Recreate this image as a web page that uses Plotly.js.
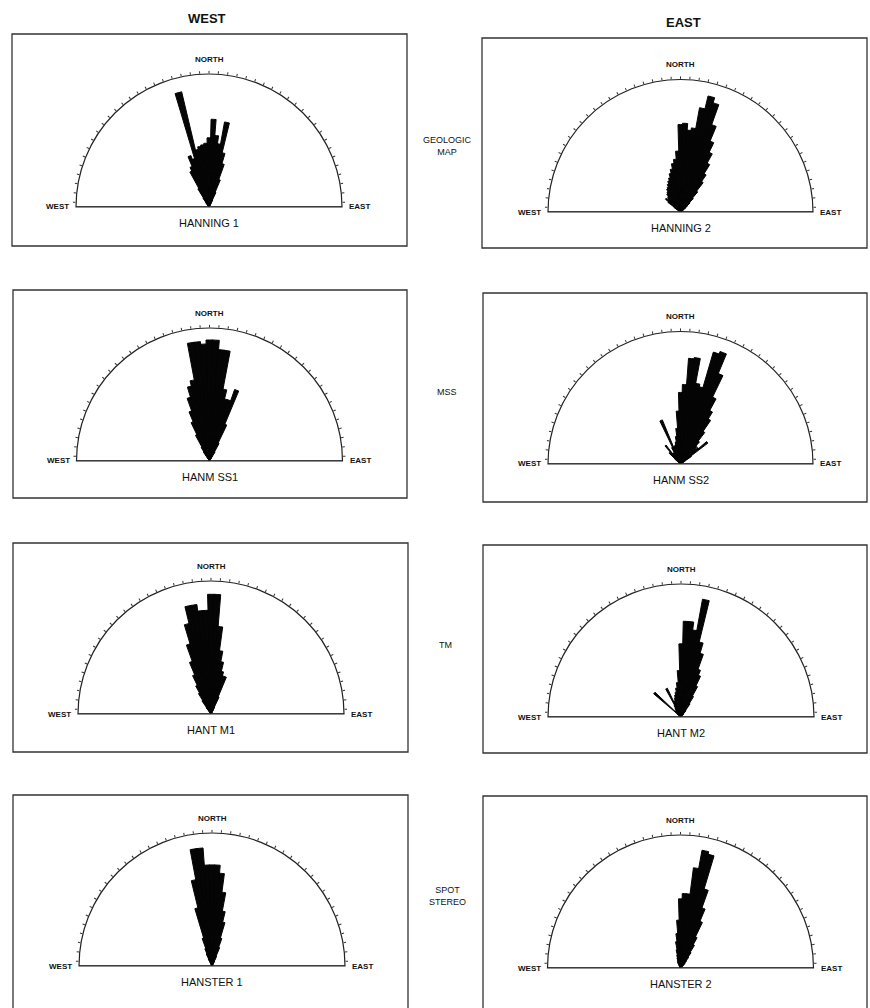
<!DOCTYPE html>
<html><head><meta charset="utf-8">
<script src="https://cdn.plot.ly/plotly-3.0.1.min.js"></script>
<style>html,body{margin:0;padding:0;background:#fff}#chart{width:870px;height:1008px}</style>
</head><body><div id="chart"></div>
<script>
// Azimuth bins (compass degrees, negative = west of north), 3-degree classes
const azimuthBins = [-54,-51,-48,-45,-42,-39,-36,-33,-30,-27,-24,-21,-18,-15,-12,-9,-6,-3,0,3,6,9,12,15,18,21,24,27,30,33,36,39,42,45,48,51,54,57,60];

// Relative lineament length per bin (percent of outer circle)
const hanning1  = [0,0,0,0,0,0,4,8,16,30,33,41,38,89,44,46,47,48,52,66,54,48,65,42,34,22,12,6,3,0,0,0,0,0,0,0,0,0,0];
const hanning2  = [6,12,15,12,14,15,17,18,20,21,23,25,27,30,33,37,40,46,66,67,62,64,80,90,86,70,58,50,42,34,28,20,14,10,7,5,3,0,0];
const hanmSS1   = [0,0,0,0,0,0,0,8,12,22,32,40,50,58,62,90,90,88,91,91,84,84,55,48,48,57,30,15,8,0,0,0,0,0,0,0,0,0,0];
const hanmSS2   = [0,0,6,12,8,18,10,8,10,14,36,14,14,15,17,21,27,40,54,60,80,81,62,60,88,90,74,56,46,40,30,22,18,16,18,26,10,4,0];
const hantM1    = [0,0,0,0,0,0,6,12,18,24,32,42,55,70,83,83,78,78,90,90,66,48,40,33,30,30,14,6,3,0,0,0,0,0,0,0,0,0,0];
const hantM2    = [0,4,27,6,5,6,7,8,10,24,12,13,15,17,19,22,26,35,55,72,72,66,90,58,50,38,34,26,18,12,6,3,0,0,0,0,0,0,0];
const hanster1  = [0,0,0,0,0,0,0,0,0,6,10,14,22,45,66,89,89,76,76,76,70,56,42,34,22,15,8,4,0,0,0,0,0,0,0,0,0,0,0];
const hanster2  = [0,0,0,0,0,0,0,0,0,4,5,6,8,10,14,20,26,36,52,56,56,76,90,88,62,48,38,26,20,14,10,7,5,4,0,0,0,0,0];

const panelNames = ['HANNING 1','HANNING 2','HANM SS1','HANM SS2','HANT M1','HANT M2','HANSTER 1','HANSTER 2'];
const panelData  = [hanning1, hanning2, hanmSS1, hanmSS2, hantM1, hantM2, hanster1, hanster2];
const columnHeaders = ['WEST','EAST'];
const rowLabels = ['GEOLOGIC<br>MAP','MSS','TM','SPOT<br>STEREO'];

// ---- layout geometry (pixels) ----
const W = 870, H = 1008;
const geom = [
  {cx:209, cy:207, R:133, box:[12,34,407,246]},
  {cx:680.5, cy:212, R:132.5, box:[482,38,867,248]},
  {cx:209.5, cy:461, R:133, box:[13,290,407,498]},
  {cx:680.5, cy:464, R:132.5, box:[483,293,867,502]},
  {cx:211, cy:714, R:133, box:[13,543,408,752]},
  {cx:681, cy:717, R:133, box:[483,545,867,753]},
  {cx:212, cy:966, R:133, box:[13,795,408,1012]},
  {cx:680.5, cy:968, R:133, box:[483,796,867,1012]}
];
const headerPos = [[207,18],[683,22]];
const rowPos = [[447,146],[447,392],[446,645],[447,896]];

const px = x => x / W;
const py = y => 1 - y / H;
const FONT = 'Liberation Sans, Arial, sans-serif';

const traces = [];
const layout = {
  width: W, height: H,
  margin: {l:0, r:0, t:0, b:0},
  paper_bgcolor: '#fff',
  showlegend: false,
  shapes: [],
  annotations: []
};

panelNames.forEach((name, i) => {
  const g = geom[i];
  const key = i === 0 ? 'polar' : 'polar' + (i + 1);
  layout[key] = {
    domain: {x: [px(g.cx - g.R), px(g.cx + g.R)], y: [py(g.cy), py(g.cy - g.R)]},
    sector: [0, 180],
    bgcolor: 'rgba(0,0,0,0)',
    bargap: 0,
    radialaxis: {range: [0, 100], visible: false},
    angularaxis: {
      rotation: 90, direction: 'clockwise',
      showline: true, linecolor: '#222', linewidth: 1.2,
      ticks: 'outside', ticklen: 2.5, tickwidth: 1, tickcolor: '#333',
      dtick: 4, showticklabels: false, showgrid: false
    }
  };
  traces.push({
    type: 'barpolar', subplot: key,
    r: panelData[i], theta: azimuthBins, width: 3.3,
    marker: {color: '#050505', line: {color: '#050505', width: 1}},
    hoverinfo: 'skip'
  });
  traces.push({
    type: 'scatterpolar', subplot: key, mode: 'lines',
    r: [100, 100], theta: [-90, 90],
    line: {color: '#222', width: 1.6}, hoverinfo: 'skip'
  });
  const b = g.box;
  layout.shapes.push({type: 'rect', xref: 'paper', yref: 'paper',
    x0: px(b[0]), x1: px(b[2]), y0: py(b[3]), y1: py(b[1]),
    line: {color: '#333', width: 1.3}});
  layout.annotations.push(
    {text: 'NORTH', x: px(g.cx), y: py(g.cy - g.R - 15), xref: 'paper', yref: 'paper',
     showarrow: false, xanchor: 'center', yanchor: 'middle', font: {family: FONT, size: 8, color: '#111', weight: 'bold'}},
    {text: 'WEST', x: px(g.cx - g.R - 5), y: py(g.cy), xref: 'paper', yref: 'paper',
     showarrow: false, xanchor: 'right', yanchor: 'middle', font: {family: FONT, size: 8, color: '#111', weight: 'bold'}},
    {text: 'EAST', x: px(g.cx + g.R + 5), y: py(g.cy), xref: 'paper', yref: 'paper',
     showarrow: false, xanchor: 'left', yanchor: 'middle', font: {family: FONT, size: 8, color: '#111', weight: 'bold'}},
    {text: name, x: px(g.cx), y: py(g.cy + 16), xref: 'paper', yref: 'paper',
     showarrow: false, xanchor: 'center', yanchor: 'middle', font: {family: FONT, size: 11, color: '#111'}}
  );
});

columnHeaders.forEach((t, i) => {
  layout.annotations.push({text: t, x: px(headerPos[i][0]), y: py(headerPos[i][1]), xref: 'paper', yref: 'paper',
    showarrow: false, xanchor: 'center', yanchor: 'middle', font: {family: FONT, size: 13, color: '#111', weight: 'bold'}});
});
rowLabels.forEach((t, i) => {
  layout.annotations.push({text: t, x: px(rowPos[i][0]), y: py(rowPos[i][1]), xref: 'paper', yref: 'paper',
    showarrow: false, xanchor: 'center', yanchor: 'middle', font: {family: FONT, size: 9, color: '#111'}});
});

Plotly.newPlot('chart', traces, layout, {staticPlot: true, displayModeBar: false});
</script>
</body></html>
